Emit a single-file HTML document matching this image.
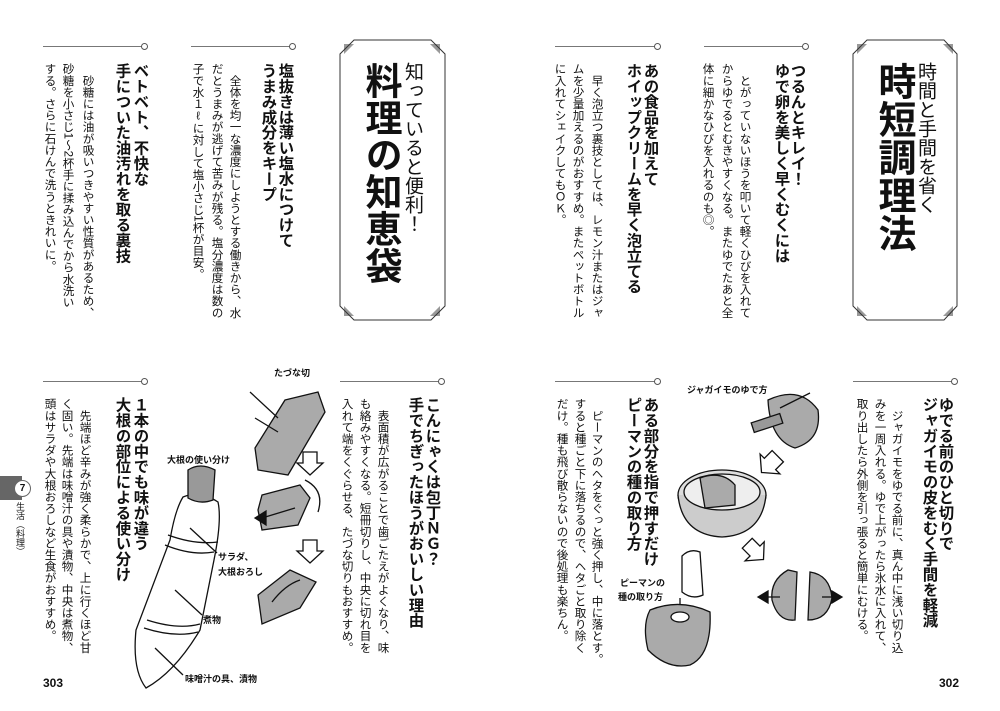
<!DOCTYPE html>
<html><head><meta charset="utf-8">
<style>
html,body{margin:0;padding:0;background:#fff;}
body{width:1000px;height:711px;position:relative;overflow:hidden;font-family:"Liberation Sans","Noto Sans CJK JP",sans-serif;color:#111;}
.v{position:absolute;writing-mode:vertical-rl;white-space:nowrap;line-height:1;}
.h{font-size:15.4px;font-weight:bold;}
.b{font-size:11.6px;}
.rule{position:absolute;height:1px;background:#777;}
.dot{position:absolute;width:5px;height:5px;border:1px solid #555;border-radius:50%;background:#fff;}
.lbl{position:absolute;font-size:9px;font-weight:bold;white-space:nowrap;}
</style></head><body>

<div class="rule" style="left:43px;top:46px;width:100px"></div><div class="dot" style="left:141px;top:43px"></div>
<div class="rule" style="left:191px;top:46px;width:100px"></div><div class="dot" style="left:289px;top:43px"></div>
<div class="rule" style="left:555px;top:46px;width:100px"></div><div class="dot" style="left:654px;top:43px"></div>
<div class="rule" style="left:704px;top:46px;width:100px"></div><div class="dot" style="left:802px;top:43px"></div>
<div class="rule" style="left:43px;top:381px;width:100px"></div><div class="dot" style="left:141px;top:378px"></div>
<div class="rule" style="left:340px;top:381px;width:100px"></div><div class="dot" style="left:438px;top:378px"></div>
<div class="rule" style="left:555px;top:381px;width:100px"></div><div class="dot" style="left:654px;top:378px"></div>
<div class="rule" style="left:853px;top:381px;width:100px"></div><div class="dot" style="left:951px;top:378px"></div>

<svg style="position:absolute;left:0;top:0" width="1000" height="711">
<g fill="#999"><polygon points="344,44 354,44 344,54"/><polygon points="440,44 430,44 440,54"/><polygon points="344,316 354,316 344,306"/><polygon points="440,316 430,316 440,306"/>
<polygon points="857,44 867,44 857,54"/><polygon points="953,44 943,44 953,54"/><polygon points="857,316 867,316 857,306"/><polygon points="953,316 943,316 953,306"/></g>
<polygon points="354,40 431,40 445,54 445,306 431,320 354,320 340,306 340,54" fill="none" stroke="#333" stroke-width="1"/>
<polygon points="867,40 944,40 957,54 957,306 944,320 867,320 853,306 853,54" fill="none" stroke="#333" stroke-width="1"/>
</svg>
<div class="v" style="left:403px;top:62px;font-size:19px;">知っていると便利！</div>
<div class="v" style="left:362px;top:62px;font-size:37px;font-weight:bold;">料理の知恵袋</div>
<div class="v" style="left:916px;top:62px;font-size:19px;">時間と手間を省く</div>
<div class="v" style="left:874px;top:62px;font-size:38px;font-weight:bold;">時短調理法</div>

<div class="v h" style="left:277px;top:63px">塩抜きは薄い塩水につけて</div>
<div class="v h" style="left:260px;top:63px">うまみ成分をキープ</div>
<div class="v b" style="left:229px;top:63px">　全体を均一な濃度にしようとする働きから、水</div>
<div class="v b" style="left:211px;top:63px">だとうまみが逃げて苦みが残る。塩分濃度は数の</div>
<div class="v b" style="left:192px;top:63px">子で水１ℓに対して塩小さじ1杯が目安。</div>
<div class="v h" style="left:132px;top:63px">ベトベト、不快な</div>
<div class="v h" style="left:114px;top:63px">手についた油汚れを取る裏技</div>
<div class="v b" style="left:82px;top:63px">　砂糖には油が吸いつきやすい性質があるため、</div>
<div class="v b" style="left:62px;top:63px">砂糖を小さじ1～2杯手に揉み込んでから水洗い</div>
<div class="v b" style="left:44px;top:63px">する。さらに石けんで洗うときれいに。</div>

<div class="v h" style="left:789px;top:63px">つるんとキレイ！</div>
<div class="v h" style="left:773px;top:63px">ゆで卵を美しく早くむくには</div>
<div class="v b" style="left:739px;top:63px">　とがっていないほうを叩いて軽くひびを入れて</div>
<div class="v b" style="left:721px;top:63px">からゆでるとむきやすくなる。またゆでたあと全</div>
<div class="v b" style="left:702px;top:63px">体に細かなひびを入れるのも◎。</div>
<div class="v h" style="left:642px;top:63px">あの食品を加えて</div>
<div class="v h" style="left:625px;top:63px">ホイップクリームを早く泡立てる</div>
<div class="v b" style="left:591px;top:63px">　早く泡立つ裏技としては、レモン汁またはジャ</div>
<div class="v b" style="left:572px;top:63px">ムを少量加えるのがおすすめ。またペットボトル</div>
<div class="v b" style="left:554px;top:63px">に入れてシェイクしてもＯＫ。</div>

<div class="v h" style="left:424px;top:397px">こんにゃくは包丁ＮＧ？</div>
<div class="v h" style="left:407px;top:397px">手でちぎったほうがおいしい理由</div>
<div class="v b" style="left:377px;top:398px">　表面積が広がることで歯ごたえがよくなり、味</div>
<div class="v b" style="left:359px;top:398px">も絡みやすくなる。短冊切りし、中央に切れ目を</div>
<div class="v b" style="left:341px;top:398px">入れて端をくぐらせる、たづな切りもおすすめ。</div>
<div class="v h" style="left:132px;top:397px">１本の中でも味が違う</div>
<div class="v h" style="left:114px;top:397px">大根の部位による使い分け</div>
<div class="v b" style="left:79px;top:398px">　先端ほど辛みが強く柔らかで、上に行くほど甘</div>
<div class="v b" style="left:61px;top:398px">く固い。先端は味噌汁の具や漬物、中央は煮物、</div>
<div class="v b" style="left:44px;top:398px">頭はサラダや大根おろしなど生食がおすすめ。</div>

<div class="v h" style="left:937px;top:397px">ゆでる前のひと切りで</div>
<div class="v h" style="left:921px;top:397px">ジャガイモの皮をむく手間を軽減</div>
<div class="v b" style="left:891px;top:398px">　ジャガイモをゆでる前に、真ん中に浅い切り込</div>
<div class="v b" style="left:874px;top:398px">みを一周入れる。ゆで上がったら氷水に入れて、</div>
<div class="v b" style="left:856px;top:398px">取り出したら外側を引っ張ると簡単にむける。</div>
<div class="v h" style="left:642px;top:397px">ある部分を指で押すだけ</div>
<div class="v h" style="left:625px;top:397px">ピーマンの種の取り方</div>
<div class="v b" style="left:591px;top:398px">　ピーマンのヘタをぐっと強く押し、中に落とす。</div>
<div class="v b" style="left:574px;top:398px">すると種ごと下に落ちるので、ヘタごと取り除く</div>
<div class="v b" style="left:556px;top:398px">だけ。種も飛び散らないので後処理も楽ちん。</div>

<div style="position:absolute;left:0;top:476px;width:22px;height:24px;background:#666;"></div>
<div style="position:absolute;left:14px;top:480px;width:15px;height:15px;border-radius:50%;background:#fff;border:1px solid #666;font-size:10px;font-weight:bold;text-align:center;line-height:15px;">7</div>
<div class="v" style="left:15px;top:502px;font-size:9px;">生活（料理）</div>

<div style="position:absolute;left:43px;top:676px;font-size:12px;font-weight:bold;">303</div>
<div style="position:absolute;left:939px;top:676px;font-size:12px;font-weight:bold;">302</div>

<svg style="position:absolute;left:0;top:0" width="1000" height="711">
<g stroke="#111" stroke-width="1.3" fill="#aaa">
<!-- daikon -->
<path d="M183,497 Q200,490 218,502 Q222,520 214,560 L200,630 Q175,672 146,688 Q132,670 136,630 L170,540 Q175,510 183,497 Z" fill="#fff"/>
<path d="M188,470 Q200,462 215,470 L213,500 Q200,505 188,498 Z" fill="#999"/>
<path d="M218,542 Q195,545 168,535" fill="none"/><path d="M214,552 Q192,556 165,545" fill="none"/>
<path d="M200,624 Q178,630 147,620" fill="none"/><path d="M198,632 Q175,638 144,628" fill="none"/>
<line x1="190" y1="528" x2="217" y2="553"/><line x1="175" y1="590" x2="202" y2="615"/><line x1="155" y1="648" x2="183" y2="675"/>
<!-- konnyaku -->
<path d="M285,400 L318,392 L325,412 L288,475 L258,470 L255,448 Z"/>
<line x1="250" y1="392" x2="278" y2="418"/><line x1="255" y1="418" x2="278" y2="432"/>
<path d="M303,452 L317,452 L317,463 L323,463 L310,475 L297,463 L303,463 Z" fill="#fff"/>
<path d="M262,495 L300,485 L310,498 L298,525 L262,530 L258,510 Z"/>
<path d="M305,480 Q325,490 318,512" fill="none"/><path d="M295,508 L262,518" fill="none"/><polygon points="255,518 266,511 266,525" fill="#111"/>
<path d="M303,540 L317,540 L317,551 L323,551 L310,563 L297,551 L303,551 Z" fill="#fff"/>
<path d="M258,595 L290,570 L316,582 L300,608 L262,624 Z"/><path d="M272,602 Q285,585 300,580" fill="none"/>
<!-- potato knife -->
<path d="M768,400 Q800,385 818,410 Q822,440 795,448 Q770,440 768,400 Z"/>
<rect x="752" y="418" width="30" height="10" fill="#999" transform="rotate(-18 767 423)"/>
<line x1="780" y1="408" x2="810" y2="393"/>
<path d="M762,453 L778,453 L778,464 L784,464 L770,476 L756,464 L762,464 Z" fill="#fff" transform="rotate(45 770 464)"/>
<!-- pot -->
<ellipse cx="722" cy="495" rx="44" ry="25" fill="#ddd"/>
<path d="M678,495 Q682,535 722,537 Q762,535 766,495" fill="#ccc"/>
<ellipse cx="722" cy="492" rx="38" ry="18" fill="#eee"/>
<path d="M700,478 Q722,470 735,485 L735,505 L705,508 Z" fill="#aaa"/>
<path d="M748,540 L762,540 L762,551 L768,551 L755,563 L741,551 L748,551 Z" fill="#fff" transform="rotate(-45 755 551)"/>
<!-- split potato -->
<path d="M788,570 Q770,580 772,600 Q778,622 795,620 L797,572 Z"/>
<path d="M810,572 Q830,575 832,598 Q828,620 808,620 Z"/>
<line x1="780" y1="597" x2="763" y2="597"/><polygon points="758,597 768,591 768,603" fill="#111"/>
<line x1="822" y1="597" x2="838" y2="597"/><polygon points="842,597 832,591 832,603" fill="#111"/>
<!-- finger & pepper -->
<path d="M682,556 Q690,548 700,552 L703,595 Q692,600 682,592 Z" fill="#fff"/>
<line x1="680" y1="598" x2="680" y2="612"/><polygon points="680,618 674,608 686,608" fill="#111"/>
<path d="M650,610 Q680,598 710,612 Q712,655 690,665 Q668,670 648,650 Q642,625 650,610 Z"/>
<ellipse cx="680" cy="617" rx="9" ry="5" fill="#fff"/>
</g>
</svg>

<div class="lbl" style="left:274px;top:366px">たづな切</div>
<div class="lbl" style="left:167px;top:453px">大根の使い分け</div>
<div class="lbl" style="left:218px;top:550px">サラダ、</div>
<div class="lbl" style="left:218px;top:565px">大根おろし</div>
<div class="lbl" style="left:203px;top:613px">煮物</div>
<div class="lbl" style="left:185px;top:672px">味噌汁の具、漬物</div>
<div class="lbl" style="left:687px;top:383px">ジャガイモのゆで方</div>
<div class="lbl" style="left:620px;top:576px">ピーマンの</div>
<div class="lbl" style="left:618px;top:590px">種の取り方</div>
</body></html>
